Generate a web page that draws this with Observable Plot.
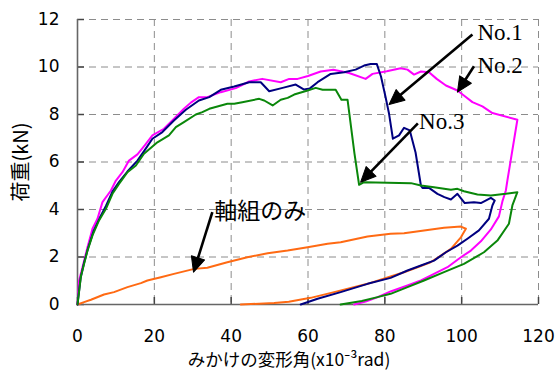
<!DOCTYPE html>
<html><head><meta charset="utf-8">
<script src="https://cdn.jsdelivr.net/npm/d3@7"></script>
<script src="https://cdn.jsdelivr.net/npm/@observablehq/plot@0.6"></script>
<style>body{margin:0;background:#fff}</style>
</head><body><div id="chart"></div>
<script>
const xTicks = [0, 20, 40, 60, 80, 100, 120];
const yTicks = [0, 2, 4, 6, 8, 10, 12];
const xTitle = "みかけの変形角(x10⁻³rad)";
const yTitle = "荷重(kN)";

// No.1 (navy)
const no1X = [0,0.8,1.7,2.8,4.2,5.8,7.4,9.1,10.8,13.0,15.6,17.5,19.5,22.1,25.1,28.2,31.6,34.3,37.3,40.8,44.7,47.7,49.9,53.4,56.8,59.0,60.5,62.5,65.9,69.4,72.4,74.6,76.3,77.9,79.0,80.2,81.1,82.1,83.7,85.0,86.5,88.0,89.4,89.8,91.5,93.7,95.5,97.2,98.9,100.8,103.2,105.0,107.6,108.6,108.0,107.1,104.5,101.5,98.9,95.9,92.8,89.4,85.9,81.5,75.5,68.5,62.5,58.1];
const no1Y = [0,1.1,1.75,2.4,3.1,3.65,4.15,4.75,5.15,5.6,6.06,6.5,6.98,7.26,7.75,8.20,8.59,8.73,9.04,9.18,9.36,9.36,8.98,9.12,9.26,9.05,9.10,9.36,9.71,9.78,9.89,10.06,10.13,10.13,9.6,8.73,8.03,6.98,7.12,7.44,7.33,6.4,5.0,4.91,4.91,4.66,4.52,4.42,4.66,4.27,4.31,4.27,4.49,4.38,4.17,3.61,3.12,2.77,2.48,2.20,1.85,1.64,1.43,1.12,0.87,0.52,0.24,0];

// No.2 (magenta)
const no2X = [0,0.4,1.3,2.6,3.9,5.2,6.5,8.7,10.0,11.7,13.4,15.6,17.5,19.5,22.5,25.0,27.7,29.5,31.6,33.8,37.3,41.2,44.7,48.1,52.9,55.1,57.3,60.0,63.3,66.6,70.7,75.0,76.8,80.5,84.1,85.9,87.6,89.4,91.5,93.5,95.9,98.9,101.0,102.8,105.4,108.0,114.5,111.9,111.5,110.6,109.7,107.6,105.0,102.4,99.8,96.3,92.8,89.4,85.9,81.5,78.0,75.0,72.0];
const no2Y = [0,1.0,1.57,2.41,3.19,3.61,4.31,4.80,5.22,5.57,6.06,6.32,6.7,7.12,7.40,7.8,8.24,8.5,8.73,8.73,8.94,9.11,9.39,9.50,9.36,9.50,9.50,9.62,9.81,9.88,9.75,9.50,9.71,9.82,9.95,9.89,9.68,9.81,9.78,9.5,9.22,9.01,8.75,8.52,8.34,8.06,7.78,5.22,4.80,4.34,3.71,3.16,2.66,2.27,1.99,1.57,1.29,1.01,0.80,0.55,0.3,0.12,0];

// No.3 (green)
const no3X = [0,0.9,1.7,2.6,3.9,5.6,7.4,9.1,10.8,13.0,15.2,17.3,20.8,23.8,25.6,27.7,30.8,32.5,34.3,39.0,40.8,42.9,47.3,48.6,50.8,52.9,54.7,56.4,59.9,62.0,63.8,67.2,68.7,70.3,72.1,73.3,74.6,86.8,89.4,92.8,97.2,98.9,100.6,104.1,107.6,111.5,114.5,113.2,112.3,109.3,105.8,100.6,95.4,90.2,85.9,81.5,78.1,74.0,68.5];
const no3Y = [0,1.2,1.71,2.27,2.91,3.54,4.03,4.66,5.08,5.57,5.85,6.35,6.83,7.12,7.47,7.68,8.00,8.10,8.24,8.45,8.45,8.52,8.66,8.59,8.38,8.62,8.70,8.84,9.01,9.12,9.04,9.04,8.62,8.62,6.35,5.04,5.15,5.11,5.01,4.94,4.83,4.87,4.77,4.63,4.59,4.66,4.73,4.17,3.40,2.69,2.20,1.71,1.36,1.01,0.73,0.45,0.31,0.15,0];

// 軸組のみ (orange)
const frameX = [0,1.7,3.5,6.9,9.5,13.0,16.5,18.2,21.7,25.1,30.4,33.8,39.0,44.2,49.5,54.7,59.9,65.1,68.5,75.5,81.5,85.0,90.2,95.4,99.8,101.1,99.8,97.2,94.6,91.9,88.5,85.0,81.5,75.5,66.8,60.7,55.0,51.2,42.5];
const frameY = [0,0.1,0.2,0.42,0.52,0.73,0.9,1.01,1.15,1.29,1.50,1.55,1.78,1.99,2.16,2.27,2.41,2.56,2.62,2.86,2.98,3.0,3.12,3.23,3.28,3.19,2.83,2.34,2.06,1.78,1.57,1.36,1.18,0.87,0.52,0.28,0.12,0.06,0];

// annotations
const labelText = ["No.1", "No.2", "No.3", "軸組のみ"];
const labelX = [104.1, 104.1, 88.9, 35.6];
const labelY = [11.45, 10.07, 7.69, 3.89];
const arrowX1 = [102.8, 103.2, 88.6, 35.1];
const arrowY1 = [11.37, 10.03, 7.63, 3.89];
const arrowX2 = [81.1, 98.9, 73.7, 30.2];
const arrowY2 = [8.42, 8.94, 5.15, 1.36];

const W = 555, H = 370, mL = 77, mR = 17, mT = 19, mB = 66;
const xDom = [xTicks[0], xTicks[xTicks.length - 1]];
const yDom = [yTicks[0], yTicks[yTicks.length - 1]];
const innerW = W - mL - mR, innerH = H - mT - mB;
const kx = innerW / (xDom[1] - xDom[0]);
const ky = innerH / (yDom[1] - yDom[0]);
const tickLen = 7;

const toRows = (xs, ys) => xs.map((x, i) => ({x, y: ys[i]}));
const series = [
  {rows: toRows(frameX, frameY), color: "#ff6a13"},
  {rows: toRows(no2X, no2Y), color: "#ff00ff"},
  {rows: toRows(no1X, no1Y), color: "#000080"},
  {rows: toRows(no3X, no3Y), color: "#0a870a"}
];

const headLen = 15;
const arrows = arrowX1.map((x1, i) => {
  const sx = (arrowX2[i] - x1) * kx, sy = -(arrowY2[i] - arrowY1[i]) * ky;
  const len = Math.hypot(sx, sy);
  const ux = sx / len, uy = sy / len;
  return {
    x1, y1: arrowY1[i], x2: arrowX2[i], y2: arrowY2[i],
    xs: arrowX2[i] - ux * (headLen - 3) / kx,
    ys: arrowY2[i] + uy * (headLen - 3) / ky,
    rot: Math.atan2(sx, -sy) * 180 / Math.PI
  };
});
const headShape = {
  draw(ctx, l) {
    const w = l * 0.46;
    ctx.moveTo(0, -l);
    ctx.lineTo(-w, 0);
    ctx.lineTo(w, 0);
    ctx.closePath();
  }
};
const labels = labelText.map((t, i) => ({t, x: labelX[i], y: labelY[i]}));

const jp = "'Noto Sans CJK JP', 'Noto Sans', sans-serif";

const plot = Plot.plot({
  width: W, height: H,
  marginLeft: mL, marginRight: mR, marginTop: mT, marginBottom: mB,
  x: {domain: xDom},
  y: {domain: yDom},
  style: {background: "#fff", color: "#000", fontFamily: "'DejaVu Sans', sans-serif", fontSize: "17px"},
  marks: [
    Plot.gridX(xTicks, {stroke: "#8c8c8c", strokeOpacity: 1, strokeDasharray: "7,5", strokeWidth: 1}),
    Plot.gridY(yTicks, {stroke: "#8c8c8c", strokeOpacity: 1, strokeDasharray: "7,5", strokeWidth: 1}),
    Plot.axisX(xTicks, {tickSize: 0, tickPadding: 25, label: null, fontSize: 17, tickFormat: d => d}),
    Plot.axisY(yTicks, {tickSize: 0, tickPadding: 18, label: null, fontSize: 17, tickFormat: d => d}),
    Plot.tickX(xTicks, {x: d => d, insetTop: innerH - tickLen, stroke: "#444", strokeWidth: 1.5}),
    Plot.tickY(yTicks, {y: d => d, insetRight: innerW - tickLen, stroke: "#444", strokeWidth: 1.5}),
    Plot.ruleX([xDom[0]], {stroke: "#666", strokeWidth: 1.6}),
    Plot.ruleY([yDom[0]], {stroke: "#666", strokeWidth: 1.6}),
    ...series.map(s => Plot.line(s.rows, {x: "x", y: "y", stroke: s.color, strokeWidth: 2, curve: "linear"})),
    Plot.link(arrows, {x1: "x1", y1: "y1", x2: "xs", y2: "ys", stroke: "#000", strokeWidth: 2.6}),
    Plot.vector(arrows, {x: "x2", y: "y2", length: headLen, rotate: "rot", anchor: "end", shape: headShape, fill: "#000", stroke: "#000", strokeWidth: 1}),
    Plot.text(labels.slice(0, 3), {x: "x", y: "y", text: "t", textAnchor: "start", fontFamily: "'Liberation Serif', 'Times New Roman', serif", fontSize: 23, fill: "#000"}),
    Plot.text(labels.slice(3), {x: "x", y: "y", text: "t", textAnchor: "start", fontFamily: jp, fontSize: 23, fill: "#000"}),
    Plot.text([xTitle], {frameAnchor: "bottom", lineAnchor: "middle", textAnchor: "middle", dy: 56, dx: -19, text: d => d, fontFamily: jp, fontSize: 17.5, fill: "#000"}),
    Plot.text([yTitle], {frameAnchor: "left", lineAnchor: "middle", textAnchor: "middle", dx: -56, rotate: -90, text: d => d, fontFamily: jp, fontSize: 20, fill: "#000"})
  ]
});
document.getElementById("chart").appendChild(plot);
</script>
</body></html>
